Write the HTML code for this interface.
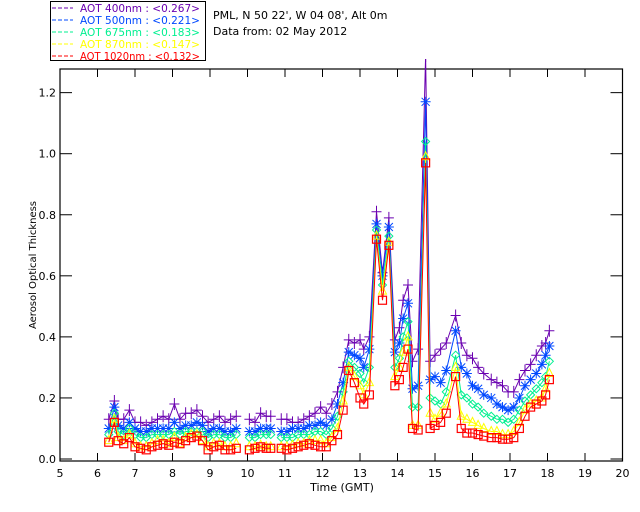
<!DOCTYPE html>
<html><head><meta charset="utf-8"><style>
body{margin:0;background:#fff;}
svg{display:block;font-family:"DejaVu Sans","Liberation Sans",sans-serif;}
</style></head><body>
<svg id="chart" width="640" height="512" viewBox="0 0 640 512">
<rect x="0" y="0" width="640" height="512" fill="#fff"/>
<g>
<rect x="50.5" y="1.5" width="155" height="59" fill="none" stroke="#000" stroke-width="1"/>
</g>
<text x="213" y="19" font-size="11" fill="#000">PML, N 50 22', W 04 08', Alt 0m</text>
<text x="213" y="35" font-size="11" fill="#000">Data from: 02 May 2012</text>
<g id="plot"></g>
<text x="342" y="491" font-size="11" text-anchor="middle" fill="#000">Time (GMT)</text>
<text transform="translate(36,265) rotate(-90)" font-size="10" text-anchor="middle" fill="#000">Aerosol Optical Thickness</text>
</svg>
<script>
const times=[6.3,6.45,6.55,6.7,6.85,7.0,7.15,7.3,7.45,7.6,7.75,7.9,8.05,8.2,8.35,8.5,8.65,8.8,8.95,9.1,9.25,9.4,9.55,9.7,9.8,10.05,10.2,10.35,10.5,10.62,10.75,10.9,11.05,11.2,11.35,11.5,11.65,11.8,11.95,12.1,12.25,12.4,12.55,12.7,12.85,13.0,13.1,13.25,13.44,13.6,13.77,13.93,14.05,14.15,14.28,14.4,14.55,14.75,14.87,15.0,15.15,15.3,15.55,15.7,15.85,16.0,16.15,16.3,16.5,16.65,16.8,16.95,17.1,17.25,17.4,17.55,17.7,17.85,17.95,18.05];
const aot400=[.13,.19,.13,.13,.16,.12,.12,.11,.12,.13,.14,.13,.18,.13,.15,.15,.16,.14,.12,.13,.14,.12,.13,.14,null,.13,.12,.15,.14,.14,null,.13,.13,.12,.12,.13,.14,.15,.17,.15,.18,.22,.30,.39,.38,.39,.36,.40,.81,.61,.79,.39,.43,.52,.57,.32,.36,1.32,.32,.34,.36,.38,.47,.38,.34,.33,.30,.28,.26,.25,.24,.22,.22,.26,.29,.31,.34,.37,.38,.42];
const aot500=[.10,.17,.11,.10,.12,.10,.09,.09,.10,.10,.10,.10,.12,.10,.11,.11,.12,.11,.09,.10,.10,.09,.09,.10,null,.09,.09,.10,.10,.10,null,.09,.09,.10,.10,.10,.11,.11,.12,.11,.13,.18,.25,.35,.34,.33,.30,.36,.77,.60,.76,.35,.38,.46,.51,.23,.24,1.17,.26,.27,.25,.29,.42,.30,.28,.24,.23,.21,.20,.18,.17,.16,.17,.20,.24,.26,.28,.31,.34,.37];
const aot675=[.08,.15,.09,.08,.10,.08,.07,.07,.08,.08,.08,.08,.09,.08,.09,.09,.09,.09,.07,.08,.08,.07,.07,.08,null,.07,.07,.08,.08,.08,null,.07,.07,.07,.08,.08,.08,.09,.09,.08,.10,.14,.22,.32,.30,.28,.25,.30,.75,.57,.73,.30,.33,.40,.45,.17,.17,1.04,.20,.19,.18,.22,.34,.21,.20,.18,.17,.15,.14,.13,.13,.12,.13,.16,.19,.21,.23,.25,.27,.32];
const aot870=[.06,.13,.07,.06,.08,.05,.04,.04,.05,.06,.06,.05,.07,.05,.07,.08,.08,.06,.04,.05,.05,.04,.04,.05,null,.04,.04,.045,.04,.04,null,.04,.04,.045,.05,.05,.06,.06,.06,.05,.07,.10,.19,.30,.27,.24,.21,.25,.73,.55,.71,.27,.30,.35,.40,.11,.11,.99,.15,.13,.15,.18,.30,.14,.13,.12,.11,.10,.09,.09,.08,.08,.09,.12,.16,.18,.19,.20,.23,.28];
const aot1020=[.055,.12,.06,.05,.07,.04,.035,.03,.04,.045,.05,.045,.055,.05,.06,.07,.075,.06,.03,.04,.045,.03,.03,.035,null,.03,.035,.04,.035,.035,null,.035,.03,.035,.04,.045,.05,.045,.04,.04,.06,.08,.16,.29,.25,.20,.18,.21,.72,.52,.70,.24,.26,.30,.36,.10,.095,.97,.10,.11,.12,.15,.27,.10,.085,.085,.08,.075,.07,.07,.065,.065,.07,.10,.14,.17,.18,.19,.21,.26];
const xTicks=[5,6,7,8,9,10,11,12,13,14,15,16,17,18,19,20];
const yTicks=[0.0,0.2,0.4,0.6,0.8,1.0,1.2];
const legendLabels=["AOT  400nm : <0.267>","AOT  500nm : <0.221>","AOT  675nm : <0.183>","AOT  870nm : <0.147>","AOT 1020nm : <0.132>"];

const NS="http://www.w3.org/2000/svg";
const L=60,R=622.5,T=69,B=461,Y0=459,YS=305.3;
const sx=t=>L+(t-5)*(R-L)/15;
const sy=v=>Y0-v*YS;
const plot=document.getElementById('plot');
function mk(tag,attrs,parent){const e=document.createElementNS(NS,tag);for(const k in attrs)e.setAttribute(k,attrs[k]);(parent||plot).appendChild(e);return e;}

const defs=mk('defs',{});
const cp=mk('clipPath',{id:'clip'},defs);
mk('rect',{x:L,y:T-10,width:R-L,height:B-T+10},cp);

const frame=mk('rect',{x:L,y:T,width:R-L,height:B-T,fill:'none',stroke:'#000','stroke-width':1.2});



xTicks.forEach(t=>{
  const x=sx(t);
  if(t>5&&t<20){
    const a=mk('line',{x1:x,x2:x,y1:B,y2:B-8,stroke:'#000'});
    
    
    const b=mk('line',{x1:x,x2:x,y1:T,y2:T+8,stroke:'#000'});
    
    
  }
  const lb=mk('text',{x:x,y:477,'font-size':11,'text-anchor':'middle',fill:'#000'});
  lb.textContent=t;
  
  
});
yTicks.forEach(v=>{
  const y=sy(v);
  const a=mk('line',{x1:L,x2:L+12,y1:y,y2:y,stroke:'#000'});
  
  
  const b=mk('line',{x1:R,x2:R-12,y1:y,y2:y,stroke:'#000'});
  
  
  const lb=mk('text',{x:56,y:y+4,'font-size':11,'text-anchor':'end',fill:'#000'});
  lb.textContent=v.toFixed(1);
  
  
});

const series=[
 {vals:aot400,color:'#6a00b0',mark:'plus',name:'series-400nm'},
 {vals:aot500,color:'#0048ff',mark:'star',name:'series-500nm'},
 {vals:aot675,color:'#00f090',mark:'diamond',name:'series-675nm'},
 {vals:aot870,color:'#ffff00',mark:'triangle',name:'series-870nm'},
 {vals:aot1020,color:'#ff0000',mark:'square',name:'series-1020nm'}
];
series.forEach(s=>{
  const g=mk('g',{'clip-path':'url(#clip)'});
  
  
  let d='',pen=false;
  times.forEach((t,i)=>{
    const v=s.vals[i];
    if(v===null||v===undefined){pen=false;return;}
    d+=(pen?'L':'M')+sx(t).toFixed(1)+' '+sy(v).toFixed(1)+' ';pen=true;
  });
  const p=mk('path',{d:d,fill:'none',stroke:s.color,'stroke-width':1},g);
  
  
  times.forEach((t,i)=>{
    const v=s.vals[i];
    if(v===null||v===undefined)return;
    const x=sx(t),y=sy(v);let m;
    if(s.mark==='plus')m=mk('path',{d:`M${x-5} ${y}H${x+5}M${x} ${y-6}V${y+6}`,stroke:s.color,'stroke-width':1,fill:'none'},g);
    else if(s.mark==='star')m=mk('path',{d:`M${x-5} ${y}H${x+5}M${x} ${y-5}V${y+5}M${x-4} ${y-4}L${x+4} ${y+4}M${x-4} ${y+4}L${x+4} ${y-4}`,stroke:s.color,'stroke-width':1,fill:'none'},g);
    else if(s.mark==='diamond')m=mk('path',{d:`M${x} ${y-4}L${x+4} ${y}L${x} ${y+4}L${x-4} ${y}Z`,stroke:s.color,'stroke-width':1,fill:'none'},g);
    else if(s.mark==='triangle')m=mk('path',{d:`M${x} ${y-5}L${x+4} ${y+3}L${x-4} ${y+3}Z`,stroke:s.color,'stroke-width':1,fill:'none'},g);
    else m=mk('rect',{x:x-4,y:y-4,width:8,height:8,stroke:s.color,'stroke-width':1.2,fill:'none'},g);
    
    
  });
});

const svg=document.getElementById('chart');
legendLabels.forEach((lab,i)=>{
  const y=11+i*12;
  const ln=mk('line',{x1:52,x2:73,y1:y-3,y2:y-3,stroke:series[i].color,'stroke-width':1,'stroke-dasharray':'4 2'},svg);
  
  
  const tx=mk('text',{x:80,y:y+1,'font-size':10.5,fill:series[i].color,'xml:space':'preserve','textLength':120,'lengthAdjust':'spacingAndGlyphs'},svg);
  tx.textContent=lab;
  
  
});
</script>
</body></html>
